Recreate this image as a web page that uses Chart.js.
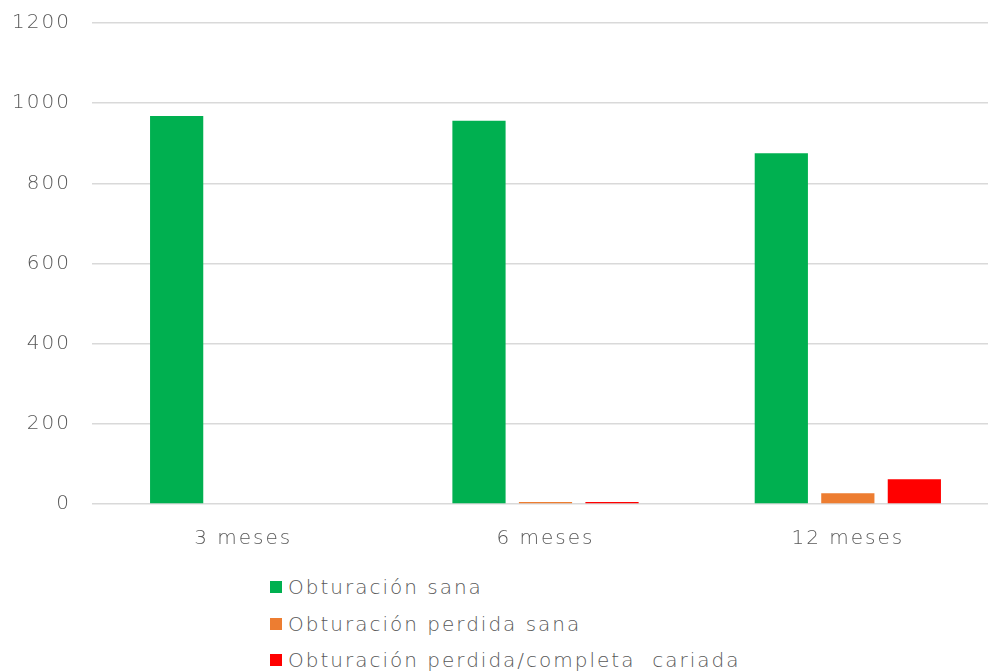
<!DOCTYPE html>
<html>
<head>
<meta charset="utf-8">
<script src="https://cdn.jsdelivr.net/npm/chart.js@4"></script>
<style>
    html, body { margin: 0; padding: 0; background: #fff; overflow: hidden; }
    #wrap { position: relative; width: 1000px; height: 671px; }
    #chart-box { position: absolute; left: 0; top: -10px; width: 1000px; height: 570px; }
    #legend { position: absolute; left: 270px; top: 569px; margin: 0; padding: 0; list-style: none;
        font-family: 'DejaVu Sans', sans-serif; font-weight: 200; font-size: 20px; letter-spacing: 2px; color: #595959; }
    #legend li { height: 36.5px; line-height: 30px; display: flex; align-items: center; white-space: pre; }
    #legend span.box { width: 12px; height: 12px; margin-right: 6px; display: inline-block; }
</style>
</head>
<body>
<div id="wrap">
    <div id="chart-box"><canvas id="bar-chart"></canvas></div>
    <ul id="legend"></ul>
</div>
<script>
const categories = ['3 meses', '6 meses', '12 meses'];
const seriesNames = ['Obturación sana', 'Obturación perdida sana', 'Obturación perdida/completa  cariada'];
const sana = [968, 956, 875];
const perdidaSana = [0, 5, 27];
const perdidaCariada = [0, 5, 62];
const seriesColors = ['#00b050', '#ed7d31', '#ff0000'];

const textColor = '#595959';
const fontFamily = "'DejaVu Sans', sans-serif";

const chartEl = document.getElementById('bar-chart');

// wider text, closer to the original typeface
const spacing = {
    id: 'spacing',
    beforeLayout: (chart) => { chart.ctx.letterSpacing = '2px'; },
    beforeDraw: (chart) => { chart.ctx.letterSpacing = '2px'; }
};

const barChart = new Chart(chartEl, { // eslint-disable-line
    type: 'bar',
    data: {
        labels: categories,
        datasets: [sana, perdidaSana, perdidaCariada].map((values, i) => ({
            label: seriesNames[i],
            data: values,
            backgroundColor: seriesColors[i],
            borderWidth: 0,
            categoryPercentage: 0.66,
            barPercentage: 0.8
        }))
    },
    options: {
        responsive: true,
        maintainAspectRatio: false,
        animation: false,
        layout: {
            padding: { top: 15, right: 1, bottom: 0, left: 0 }
        },
        plugins: {
            legend: { display: false },
            tooltip: { enabled: false }
        },
        scales: {
            x: {
                grid: { display: false },
                border: { display: false },
                ticks: {
                    color: textColor,
                    padding: 15,
                    font: { family: fontFamily, size: 20, weight: 200 }
                },
                afterFit: (scale) => { scale.height = 56; }
            },
            y: {
                min: 0,
                max: 1200,
                grid: { color: '#d9d9d9', lineWidth: 1.5, drawTicks: false },
                border: { display: false },
                ticks: {
                    stepSize: 200,
                    color: textColor,
                    padding: 21,
                    font: { family: fontFamily, size: 20, weight: 200 },
                    callback: (value) => String(value)
                },
                afterFit: (scale) => { scale.width = 92; }
            }
        }
    },
    plugins: [spacing]
});

const legendEl = document.getElementById('legend');
seriesNames.forEach((name, i) => {
    const li = document.createElement('li');
    const box = document.createElement('span');
    box.className = 'box';
    box.style.background = seriesColors[i];
    li.appendChild(box);
    li.appendChild(document.createTextNode(name));
    legendEl.appendChild(li);
});
</script>
</body>
</html>
